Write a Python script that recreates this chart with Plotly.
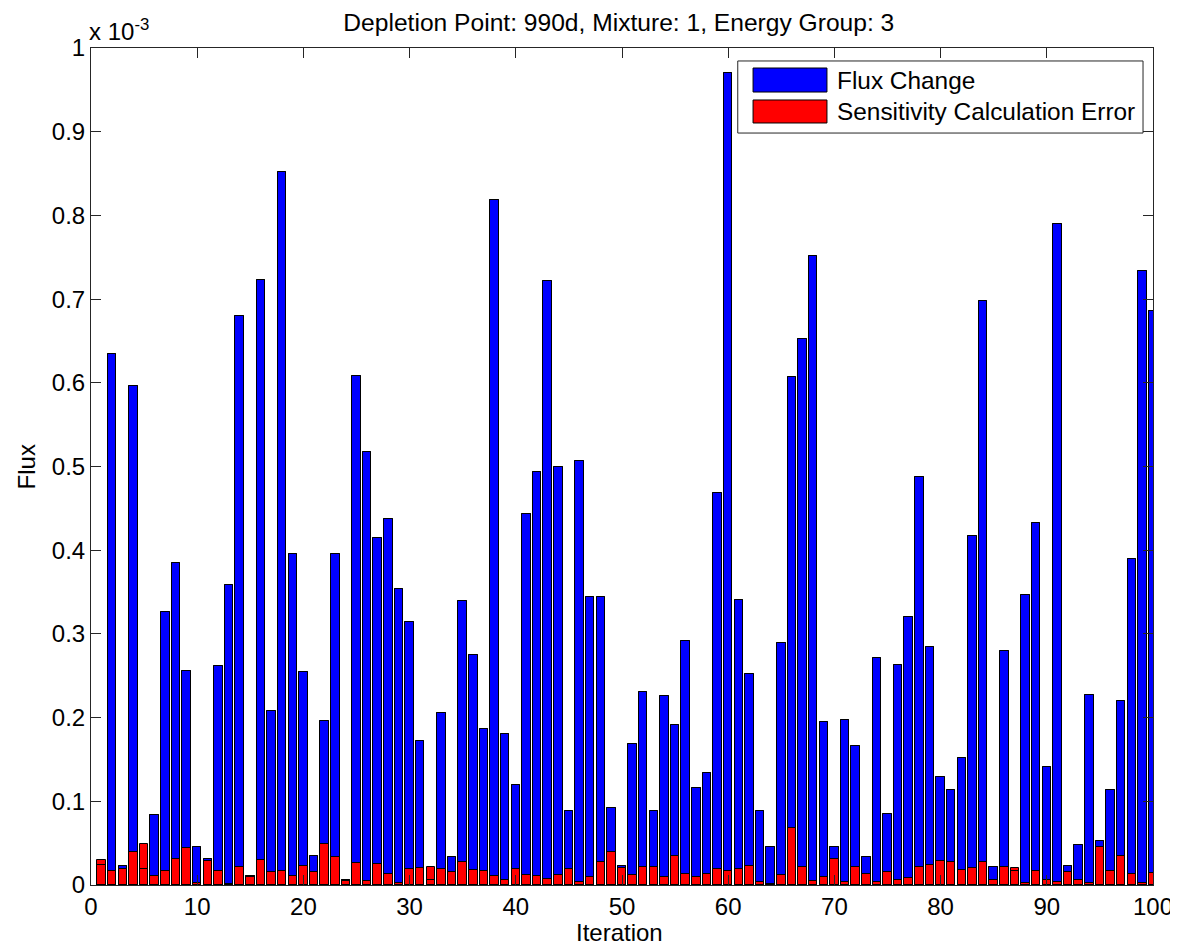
import plotly.graph_objects as go

# Values in units of 1e-3 (axis shows "x 10^-3")
iterations = list(range(1, 101))
flux_change = [
    0.024, 0.634, 0.023, 0.596, 0.019, 0.084, 0.326, 0.385, 0.256, 0.046,
    0.031, 0.262, 0.358, 0.680, 0.011, 0.723, 0.208, 0.852, 0.396, 0.254,
    0.035, 0.196, 0.396, 0.006, 0.608, 0.517, 0.415, 0.437, 0.354, 0.314,
    0.172, 0.006, 0.205, 0.034, 0.339, 0.275, 0.186, 0.818, 0.181, 0.120,
    0.443, 0.494, 0.722, 0.500, 0.089, 0.506, 0.344, 0.344, 0.092, 0.023,
    0.169, 0.231, 0.089, 0.226, 0.191, 0.292, 0.116, 0.134, 0.468, 0.970,
    0.340, 0.252, 0.089, 0.045, 0.289, 0.607, 0.652, 0.751, 0.195, 0.046,
    0.197, 0.166, 0.033, 0.271, 0.085, 0.263, 0.320, 0.488, 0.284, 0.129,
    0.114, 0.152, 0.417, 0.698, 0.022, 0.280, 0.017, 0.346, 0.433, 0.141,
    0.790, 0.023, 0.048, 0.227, 0.052, 0.114, 0.220, 0.389, 0.734, 0.686,
]
sens_error = [
    0.030, 0.017, 0.019, 0.039, 0.049, 0.011, 0.017, 0.031, 0.044, 0.002,
    0.029, 0.017, 0.001, 0.022, 0.010, 0.030, 0.016, 0.017, 0.011, 0.023,
    0.015, 0.049, 0.034, 0.005, 0.026, 0.005, 0.025, 0.013, 0.002, 0.019,
    0.020, 0.022, 0.019, 0.015, 0.028, 0.018, 0.017, 0.011, 0.006, 0.019,
    0.012, 0.011, 0.007, 0.012, 0.019, 0.003, 0.009, 0.027, 0.039, 0.020,
    0.012, 0.021, 0.021, 0.009, 0.035, 0.013, 0.010, 0.013, 0.019, 0.017,
    0.019, 0.023, 0.004, 0.001, 0.012, 0.068, 0.021, 0.005, 0.010, 0.031,
    0.003, 0.021, 0.013, 0.003, 0.015, 0.006, 0.008, 0.021, 0.024, 0.029,
    0.027, 0.018, 0.020, 0.028, 0.006, 0.021, 0.020, 0.002, 0.017, 0.006,
    0.003, 0.015, 0.006, 0.002, 0.046, 0.017, 0.035, 0.013, 0.002, 0.014,
]
y_ticks = [0, 0.1, 0.2, 0.3, 0.4, 0.5, 0.6, 0.7, 0.8, 0.9, 1.0]
y_tick_labels = ["0", "0.1", "0.2", "0.3", "0.4", "0.5", "0.6", "0.7", "0.8", "0.9", "1"]
x_ticks = [0, 10, 20, 30, 40, 50, 60, 70, 80, 90, 100]

FONT = "Liberation Sans, Arial, Helvetica, sans-serif"
FS = 24

# the page body adds an 8px margin, so the figure is sized to fit the window
W, H = 1170, 942

fig = go.Figure()
fig.add_trace(go.Bar(
    x=iterations, y=flux_change, width=0.8, name="Flux Change",
    marker=dict(color="#0000FF", line=dict(color="black", width=1)),
    showlegend=False,
))
fig.add_trace(go.Bar(
    x=iterations, y=sens_error, width=0.8, name="Sensitivity Calculation Error",
    marker=dict(color="#FF0000", line=dict(color="black", width=1)),
    showlegend=False,
))
# edge outline of flux bars drawn over the red bars (as MATLAB renders edges)
fig.add_trace(go.Bar(
    x=iterations, y=flux_change, width=0.8, name="edges",
    marker=dict(color="rgba(0,0,0,0)", line=dict(color="black", width=1)),
    showlegend=False, hoverinfo="skip",
))

axis_common = dict(
    showline=True, linecolor="#262626", linewidth=1, mirror="ticks",
    ticks="inside", ticklen=10, tickcolor="#262626", tickwidth=1,
    showgrid=False, zeroline=False, automargin=False,
    tickfont=dict(family=FONT, size=FS, color="black"),
)

fig.update_layout(
    width=W, height=H,
    margin=dict(l=83, r=25, t=40, b=65, autoexpand=False),
    paper_bgcolor="white", plot_bgcolor="white",
    barmode="overlay", bargap=0,
    font=dict(family=FONT, size=FS, color="black"),
    xaxis=dict(range=[0, 100], tickvals=x_ticks, **axis_common),
    yaxis=dict(range=[0, 1.0], tickvals=y_ticks, ticktext=y_tick_labels, **axis_common),
    title=dict(text="Depletion Point: 990d, Mixture: 1, Energy Group: 3",
               xref="paper", x=0.497, xanchor="center",
               yref="container", y=1 - 14 / H, yanchor="middle",
               font=dict(family=FONT, size=24.6, color="black")),
    showlegend=False,
)

# axis titles
fig.add_annotation(xref="paper", yref="paper", x=0.498, y=-0.0562, xanchor="center",
                   yanchor="middle", text="Iteration", showarrow=False,
                   font=dict(family=FONT, size=FS, color="black"))
fig.add_annotation(xref="paper", yref="paper", x=-0.0603, y=0.5, xanchor="center",
                   yanchor="middle", text="Flux", textangle=-90, showarrow=False,
                   font=dict(family=FONT, size=FS, color="black"))

# exponent label
fig.add_annotation(xref="paper", yref="paper", x=0, y=1.0, xanchor="left", yanchor="bottom",
                   text="x 10<sup>-3</sup>", showarrow=False, xshift=-4, yshift=1,
                   font=dict(family=FONT, size=FS, color="black"))

# legend box (MATLAB style)
lx0, lx1, ly0, ly1 = 0.609, 0.9906, 0.8984, 0.9845
fig.add_shape(type="rect", xref="paper", yref="paper", x0=lx0, x1=lx1, y0=ly0, y1=ly1,
              line=dict(color="#262626", width=1), fillcolor="white", layer="above")
legend_items = [("Flux Change", "#0000FF", 0.9474, 0.9761),
                ("Sensitivity Calculation Error", "#FF0000", 0.9104, 0.9379)]
for label, color, y0, y1 in legend_items:
    fig.add_shape(type="rect", xref="paper", yref="paper", x0=0.6234, x1=0.6930, y0=y0, y1=y1,
                  line=dict(color="black", width=1), fillcolor=color, layer="above")
    fig.add_annotation(xref="paper", yref="paper", x=0.7006, y=(y0 + y1) / 2,
                       xanchor="left", yanchor="middle", text=label, showarrow=False,
                       font=dict(family=FONT, size=24.4, color="black"))

fig.write_html("out.html")
